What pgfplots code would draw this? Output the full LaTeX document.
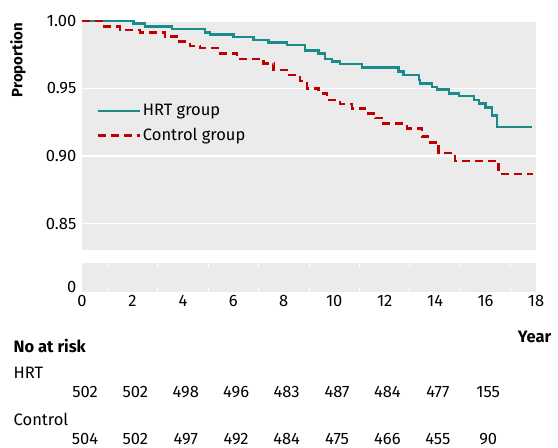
\documentclass[border=0pt]{standalone}
\usepackage{pgfplots}
\pgfplotsset{compat=1.18}
\usepackage{fontspec}
\setmainfont{Fira Sans}
\definecolor{bgg}{HTML}{EBEBEB}
\definecolor{teal1}{HTML}{1A8C8C}
\definecolor{red1}{HTML}{C00000}
\begin{document}
\fontsize{16.5}{19}\selectfont
\begin{tikzpicture}
\path[use as bounding box] (0pt,0pt) rectangle (558pt,448pt);
\pgfplotsset{every axis/.append style={scale only axis, width=454pt, xmin=0, xmax=18,
  axis line style={draw=none}, axis background/.style={fill=bgg},
  /pgf/number format/assume math mode=true, tick label style={font=\fontsize{16.5}{19}\selectfont},
  major tick length=0pt, minor tick length=0pt, clip=false}}
\begin{axis}[at={(82pt,197.5pt)}, anchor=south west, height=229.5pt,
  ymin=0.83, ymax=1.0, ytick={0.85,0.90,0.95,1.00},
  yticklabel style={/pgf/number format/.cd, fixed, fixed zerofill, precision=2},
  ymajorgrids, grid style={white, line width=1.5pt}, xtick=\empty,
  legend style={at={(0.025,0.655)}, anchor=north west, draw=none, fill=none, row sep=6pt,
    font=\fontsize{16.5}{19}\selectfont}, legend cell align=left,
  legend image code/.code={\draw[#1] (0pt,0pt) -- (42pt,0pt);}]
\addplot[const plot, teal1, line width=2.4pt] coordinates {
(0,1.0)(2.04,0.998)(2.5,0.996)(3.56,0.994)(4.88,0.9916)(5.08,0.990)(6.0,0.988)(6.8,0.986)
(7.39,0.984)(8.12,0.982)(8.83,0.978)(9.38,0.976)(9.64,0.972)(9.9,0.970)(10.24,0.968)
(11.1,0.9657)(12.55,0.9625)(12.75,0.960)(13.35,0.9563)(13.41,0.9538)(13.88,0.951)
(14.07,0.9494)(14.54,0.9464)(14.94,0.9444)(15.53,0.9415)(15.73,0.939)(15.99,0.936)
(16.26,0.930)(16.46,0.9217)(17.85,0.9217)};
\addlegendentry{HRT group}
\addplot[const plot, red1, line width=2.4pt, dash pattern=on 8pt off 5pt] coordinates {
(0,1.0)(0.78,0.996)(1.5,0.9933)(2.3,0.9916)(3.3,0.9884)(3.76,0.9847)(4.29,0.9815)
(4.68,0.9798)(5.4,0.976)(6.14,0.9719)(7.2,0.9686)(7.6,0.9637)(8.12,0.960)(8.65,0.9556)
(8.92,0.950)(9.38,0.9464)(9.71,0.9415)(10.24,0.9385)(10.7,0.9353)(11.23,0.9316)
(11.63,0.928)(11.96,0.924)(12.88,0.9205)(13.48,0.9143)(13.81,0.910)(14.14,0.902)
(14.8,0.8963)(16.52,0.8867)(17.9,0.8867)};
\addlegendentry{Control group}
\end{axis}
\begin{axis}[at={(82pt,156pt)}, anchor=south west, height=29pt,
  ymin=0, ymax=1, ytick={0}, xtick={0,2,...,18},
  yticklabel style={anchor=south east, yshift=-6pt},
  xticklabel style={yshift=2pt},
  extra x ticks={1,3,...,17}, extra x tick labels={}, extra x tick style={major tick length=4pt, tick style={white, line width=1pt}, tick align=inside}]
\addplot[draw=none] coordinates {(0,0)(18,0)};
\end{axis}
\node[rotate=90, font=\fontsize{15}{18}\selectfont\bfseries] at (18pt,388pt) {Proportion};
\node[anchor=base east, font=\bfseries] at (557pt,105pt) {Year};
\node[anchor=base west, font=\bfseries] at (8pt,95pt) {No at risk};
\node[anchor=base west] at (8pt,70pt) {HRT};
\node[anchor=base west] at (8pt,22pt) {Control};
\foreach \v [count=\i from 0] in {502,502,498,496,483,487,484,477,155}
  \node[anchor=base] at (85pt+50.4pt*\i,50pt) {\v};
\foreach \v [count=\i from 0] in {504,502,497,492,484,475,466,455,90}
  \node[anchor=base] at (85pt+50.4pt*\i,3pt) {\v};
\end{tikzpicture}
\end{document}
